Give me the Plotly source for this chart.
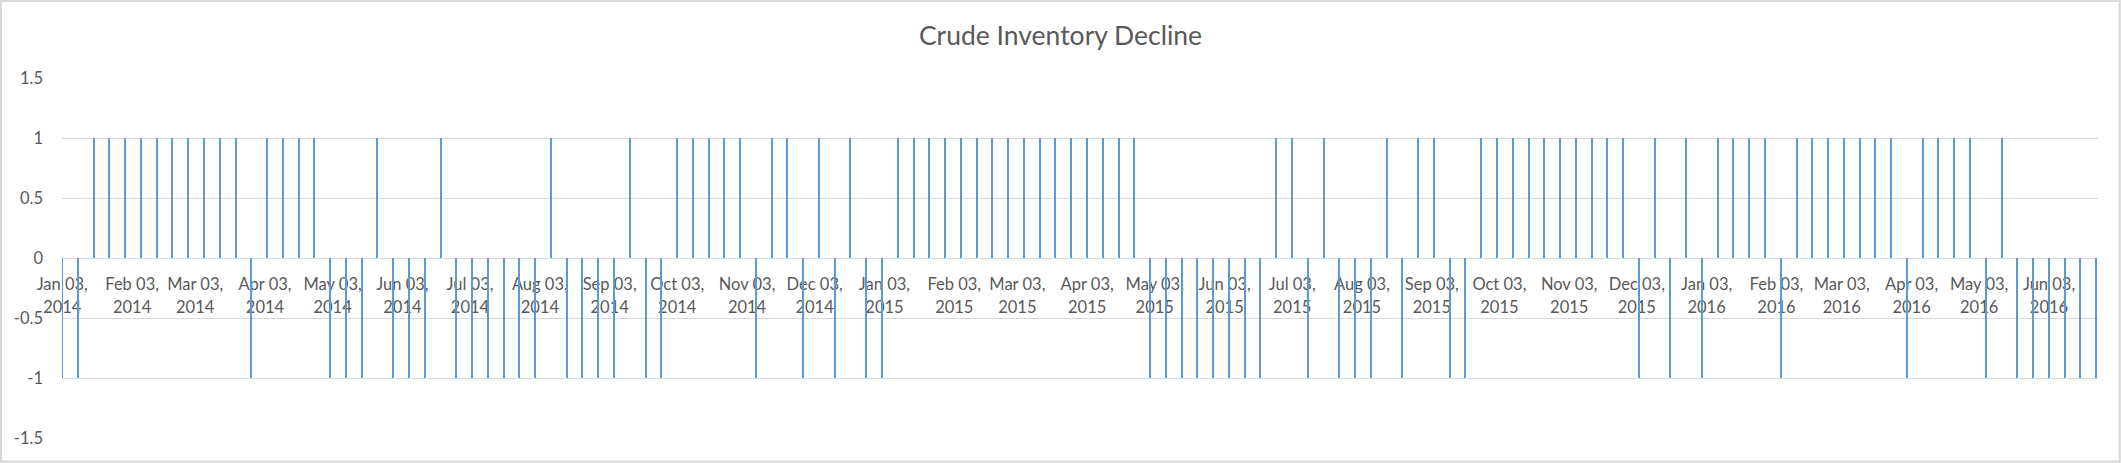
import plotly.graph_objects as go

# ---- data ----
week_dates = [
    "2014-01-03", "2014-01-10", "2014-01-17", "2014-01-24", "2014-01-31",
    "2014-02-07", "2014-02-14", "2014-02-21", "2014-02-28",
    "2014-03-07", "2014-03-14", "2014-03-21", "2014-03-28",
    "2014-04-04", "2014-04-11", "2014-04-18", "2014-04-25",
    "2014-05-02", "2014-05-09", "2014-05-16", "2014-05-23", "2014-05-30",
    "2014-06-06", "2014-06-13", "2014-06-20", "2014-06-27",
    "2014-07-04", "2014-07-11", "2014-07-18", "2014-07-25",
    "2014-08-01", "2014-08-08", "2014-08-15", "2014-08-22", "2014-08-29",
    "2014-09-05", "2014-09-12", "2014-09-19", "2014-09-26",
    "2014-10-03", "2014-10-10", "2014-10-17", "2014-10-24", "2014-10-31",
    "2014-11-07", "2014-11-14", "2014-11-21", "2014-11-28",
    "2014-12-05", "2014-12-12", "2014-12-19", "2014-12-26",
    "2015-01-02", "2015-01-09", "2015-01-16", "2015-01-23", "2015-01-30",
    "2015-02-06", "2015-02-13", "2015-02-20", "2015-02-27",
    "2015-03-06", "2015-03-13", "2015-03-20", "2015-03-27",
    "2015-04-03", "2015-04-10", "2015-04-17", "2015-04-24",
    "2015-05-01", "2015-05-08", "2015-05-15", "2015-05-22", "2015-05-29",
    "2015-06-05", "2015-06-12", "2015-06-19", "2015-06-26",
    "2015-07-03", "2015-07-10", "2015-07-17", "2015-07-24", "2015-07-31",
    "2015-08-07", "2015-08-14", "2015-08-21", "2015-08-28",
    "2015-09-04", "2015-09-11", "2015-09-18", "2015-09-25",
    "2015-10-02", "2015-10-09", "2015-10-16", "2015-10-23", "2015-10-30",
    "2015-11-06", "2015-11-13", "2015-11-20", "2015-11-27",
    "2015-12-04", "2015-12-11", "2015-12-18", "2015-12-25",
    "2016-01-01", "2016-01-08", "2016-01-15", "2016-01-22", "2016-01-29",
    "2016-02-05", "2016-02-12", "2016-02-19", "2016-02-26",
    "2016-03-04", "2016-03-11", "2016-03-18", "2016-03-25",
    "2016-04-01", "2016-04-08", "2016-04-15", "2016-04-22", "2016-04-29",
    "2016-05-06", "2016-05-13", "2016-05-20", "2016-05-27",
    "2016-06-03", "2016-06-10", "2016-06-17", "2016-06-24",
]

decline_2014 = [-1, -1, 1, 1, 1, 1, 1, 1, 1, 1, 1, 1, -1, 1, 1, 1, 1, -1, -1, -1,
                1, -1, -1, -1, 1, -1, -1, -1, -1, -1, -1, 1, -1, -1, -1, -1, 1, -1, -1, 1,
                1, 1, 1, 1, -1, 1, 1, -1, 1, -1, 1, -1]
decline_2015 = [-1, 1, 1, 1, 1, 1, 1, 1, 1, 1, 1, 1, 1, 1, 1, 1, 1, -1, -1, -1,
                -1, -1, -1, -1, -1, 1, 1, -1, 1, -1, -1, -1, 1, -1, 1, 1, -1, -1, 1, 1,
                1, 1, 1, 1, 1, 1, 1, 1, -1, 1, -1, 1]
decline_2016 = [-1, 1, 1, 1, 1, -1, 1, 1, 1, 1, 1, 1, 1, -1, 1, 1, 1, 1, -1, 1,
                -1, -1, -1, -1, -1, -1]
decline = decline_2014 + decline_2015 + decline_2016

tick_dates = [
    "2014-01-03", "2014-02-03", "2014-03-03", "2014-04-03", "2014-05-03", "2014-06-03",
    "2014-07-03", "2014-08-03", "2014-09-03", "2014-10-03", "2014-11-03", "2014-12-03",
    "2015-01-03", "2015-02-03", "2015-03-03", "2015-04-03", "2015-05-03", "2015-06-03",
    "2015-07-03", "2015-08-03", "2015-09-03", "2015-10-03", "2015-11-03", "2015-12-03",
    "2016-01-03", "2016-02-03", "2016-03-03", "2016-04-03", "2016-05-03", "2016-06-03",
]
tick_month_labels = [
    "Jan 03,", "Feb 03,", "Mar 03,", "Apr 03,", "May 03,", "Jun 03,",
    "Jul 03,", "Aug 03,", "Sep 03,", "Oct 03,", "Nov 03,", "Dec 03,",
    "Jan 03,", "Feb 03,", "Mar 03,", "Apr 03,", "May 03,", "Jun 03,",
    "Jul 03,", "Aug 03,", "Sep 03,", "Oct 03,", "Nov 03,", "Dec 03,",
    "Jan 03,", "Feb 03,", "Mar 03,", "Apr 03,", "May 03,", "Jun 03,",
]
tick_year_labels = [
    "2014", "2014", "2014", "2014", "2014", "2014", "2014", "2014", "2014", "2014", "2014", "2014",
    "2015", "2015", "2015", "2015", "2015", "2015", "2015", "2015", "2015", "2015", "2015", "2015",
    "2016", "2016", "2016", "2016", "2016", "2016",
]
y_ticks = [-1.5, -1, -0.5, 0, 0.5, 1, 1.5]
y_tick_labels = ["-1.5", "-1", "-0.5", "0", "0.5", "1", "1.5"]

# ---- figure ----
W, H = 2121, 463
L, R, T, B = 62, 23, 78, 25
PW, PH = W - L - R, H - T - B
TEXT = "#595959"
GRID = "#D9D9D9"
FONT = "Lato"
X_RANGE = ["2014-01-02 21:00", "2016-06-24 18:00"]
TICK_FONT = dict(family=FONT, size=16.5, color=TEXT)

fig = go.Figure()
fig.add_trace(go.Bar(
    x=week_dates, y=decline,
    width=0.6 * 86400000,
    marker=dict(color="#5B9BD5", line=dict(width=0)),
    showlegend=False, hoverinfo="x+y",
))
# invisible helper trace so that the second (year-line) axis is drawn
fig.add_trace(go.Scatter(
    x=tick_dates, y=[0] * len(tick_dates), xaxis="x2", yaxis="y",
    mode="markers", marker=dict(opacity=0, size=1),
    showlegend=False, hoverinfo="skip",
))

common_x = dict(
    type="date", range=X_RANGE, tickvals=tick_dates,
    anchor="free", position=0.5,
    showgrid=False, zeroline=False, showline=False, ticks="",
    tickfont=TICK_FONT, layer="below traces",
)

fig.update_layout(
    width=W, height=H,
    margin=dict(l=L, r=R, t=T, b=B, pad=0),
    paper_bgcolor="white", plot_bgcolor="white",
    font=dict(family=FONT, color=TEXT, size=16.5),
    title=dict(text="Crude Inventory Decline", x=0.5, xref="container", xanchor="center",
               y=1 - 35.5 / H, yref="container", yanchor="middle",
               font=dict(family=FONT, size=26.5, color=TEXT)),
    bargap=0,
    xaxis=dict(**common_x, ticktext=tick_month_labels, ticklabelstandoff=14),
    xaxis2=dict(**common_x, ticktext=tick_year_labels, ticklabelstandoff=37,
                overlaying="x", side="bottom"),
    yaxis=dict(
        range=[-1.5, 1.5], domain=[0, 1],
        tickvals=y_ticks, ticktext=y_tick_labels,
        showgrid=True, gridcolor=GRID, gridwidth=1,
        zeroline=False, showline=False, ticks="",
        ticklabelstandoff=18,
        tickfont=TICK_FONT,
    ),
)

# chart-area border
fig.add_shape(type="rect", xref="paper", yref="paper",
              x0=(1 - L) / PW, x1=(W - 1.3 - L) / PW,
              y0=(T + PH - (H - 1.3)) / PH, y1=(T + PH - 0.8) / PH,
              line=dict(color=GRID, width=2.2), fillcolor="rgba(0,0,0,0)", layer="above")

fig.write_html("out.html", config={"displayModeBar": False},
               post_script="document.body.style.margin='0px';")
